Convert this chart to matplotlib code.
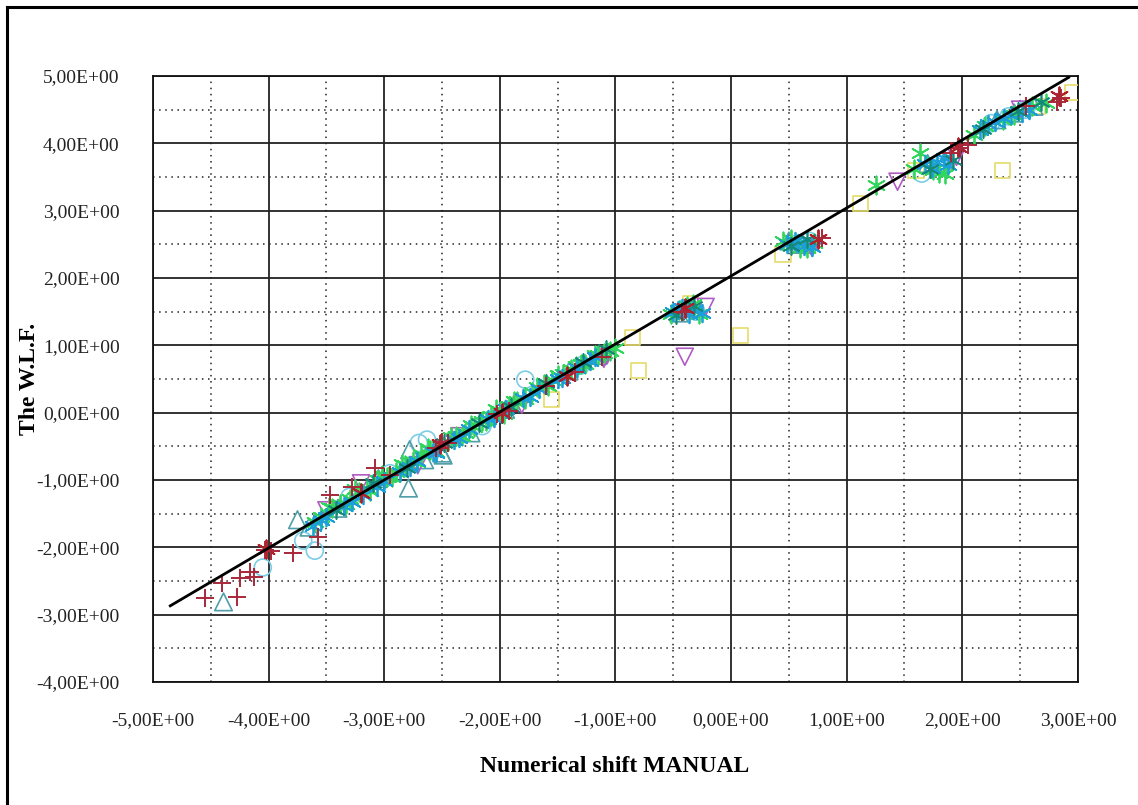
import matplotlib
matplotlib.use('Agg')
import matplotlib.pyplot as plt
from matplotlib.lines import Line2D

# ---------------- data ----------------
x_ticks = [-5, -4, -3, -2, -1, 0, 1, 2, 3]
x_tick_labels = ['-5,00E+00', '-4,00E+00', '-3,00E+00', '-2,00E+00', '-1,00E+00',
                 '0,00E+00', '1,00E+00', '2,00E+00', '3,00E+00']
y_ticks = [-4, -3, -2, -1, 0, 1, 2, 3, 4, 5]
y_tick_labels = ['-4,00E+00', '-3,00E+00', '-2,00E+00', '-1,00E+00', '0,00E+00',
                 '1,00E+00', '2,00E+00', '3,00E+00', '4,00E+00', '5,00E+00']

x_label = 'Numerical shift MANUAL'
y_label = 'The W.L.F.'

# regression line
fit_x = [-4.85, 2.92]
fit_slope = 1.01
fit_intercept = 2.03

red_x = [-4.55, -4.40, -4.27, -4.25, -4.16, -4.13, -4.03, -3.98, -3.79, -3.57, -3.47, -3.28,
         -3.08, -2.95, -2.55, -2.50, -2.45, -2.02, -1.92, -1.60, -1.35, -1.12, -0.42, 0.79,
         1.90, 1.98, 2.05, 2.55, 2.82, 2.85]
red_y = [-2.75, -2.53, -2.74, -2.45, -2.36, -2.44, -2.04, -2.06, -2.08, -1.85, -1.22, -1.10,
         -0.82, -0.93, -0.52, -0.43, -0.45, -0.02, 0.02, 0.40, 0.60, 0.82, 1.50, 2.60,
         3.85, 3.93, 3.98, 4.55, 4.62, 4.68]

red_star_x = [-4.02, -3.20, -2.52, -1.98, -1.42, -0.40, 0.75, 1.96, 2.84]
red_star_y = [-2.02, -1.20, -0.46, 0.00, 0.55, 1.55, 2.58, 3.95, 4.70]

tri_x = [-4.39, -3.75, -3.65, -3.40, -3.05, -2.79, -2.78, -2.65, -2.50, -2.49, -2.25, -1.95,
         -1.40, -1.15, -0.45, -0.35, 0.50, 0.62, 1.70, 1.85, 2.30, 2.45, 2.62]
tri_y = [-2.81, -1.59, -1.70, -1.42, -0.98, -1.12, -0.55, -0.70, -0.60, -0.63, -0.30, 0.05,
         0.62, 0.85, 1.48, 1.55, 2.55, 2.50, 3.70, 3.75, 4.35, 4.45, 4.55]

circ_x = [-4.05, -3.70, -3.60, -3.30, -2.95, -2.70, -2.63, -2.15, -1.78, -1.30, -0.40, -0.30,
          0.55, 0.68, 1.65, 1.80, 2.25, 2.40, 2.55]
circ_y = [-2.30, -1.90, -2.05, -1.25, -0.90, -0.45, -0.40, -0.20, 0.49, 0.70, 1.55, 1.50,
          2.50, 2.55, 3.55, 3.65, 4.30, 4.40, 4.50]

vtri_x = [-3.50, -3.20, -2.71, -2.35, -1.81, -1.10, -1.07, -0.40, -0.22, 0.70, 1.44, 1.95, 2.50]
vtri_y = [-1.45, -1.05, -0.78, -0.35, 0.12, 0.80, 0.86, 0.83, 1.57, 2.45, 3.43, 3.80, 4.50]

sq_x = [-1.55, -0.85, -0.80, -0.35, 0.08, 0.45, 1.12, 1.60, 2.35, 2.65, 2.95]
sq_y = [0.19, 1.12, 0.63, 1.62, 1.15, 2.35, 3.11, 3.60, 3.60, 4.55, 4.75]

green_x = [-3.55, -3.45, -3.38, -3.30, -3.22, -3.15, -3.05, -2.98, -2.90, -2.82, -2.75, -2.68,
           -2.60, -2.52, -2.45, -2.38, -2.30, -2.22, -2.15, -2.08, -2.00, -1.92, -1.85, -1.72,
           -1.62, -1.55, -1.45, -1.38, -1.30, -1.22, -1.15, -1.05, -0.45, -0.38, -0.28, 0.45,
           0.60, 0.72, 1.25, 1.63, 1.75, 1.85, 2.20, 2.35, 2.60, 2.72,
           -3.60, -3.48, -3.33, -3.25, -3.12, -3.02, -2.93, -2.85, -2.72, -2.62, -2.55, -2.42,
           -2.33, -2.25, -2.12, -2.03, -1.96, -1.88, -1.78, -1.68, -1.58, -1.50, -1.42, -1.34,
           -1.26, -1.18, -1.10, -1.00, -0.52, -0.33, 0.52, 0.66, 1.58, 1.80, 2.10, 2.45]
green_y = [-1.55, -1.42, -1.35, -1.28, -1.18, -1.12, -1.00, -0.95, -0.88, -0.78, -0.72, -0.62,
           -0.55, -0.50, -0.42, -0.35, -0.30, -0.22, -0.12, -0.05, 0.02, 0.10, 0.18, 0.30,
           0.42, 0.48, 0.58, 0.65, 0.72, 0.78, 0.85, 0.92, 1.52, 1.58, 1.47, 2.55,
           2.45, 2.52, 3.38, 3.86, 3.60, 3.55, 4.25, 4.35, 4.55, 4.60,
           -1.62, -1.40, -1.36, -1.14, -1.16, -0.92, -0.95, -0.76, -0.74, -0.52, -0.58, -0.36,
           -0.34, -0.18, -0.13, 0.06, -0.02, 0.18, 0.20, 0.38, 0.40, 0.56, 0.56, 0.70,
           0.72, 0.86, 0.88, 0.96, 1.46, 1.62, 2.58, 2.44, 3.62, 3.56, 4.12, 4.42]

blue_x = [-3.62, -3.50, -3.35, -3.18, -3.00, -2.86, -2.72, -2.58, -2.40, -2.27, -2.10, -1.95,
          -1.80, -1.66, -1.50, -1.33, -1.18, -0.50, -0.42, -0.33, -0.25, 0.48, 0.55, 0.63,
          1.68, 1.78, 1.88, 2.15, 2.28, 2.42, 2.58,
          -3.55, -3.28, -3.06, -2.78, -2.55, -2.35, -2.05, -1.74, -1.46, -1.22, -0.46, -0.36,
          0.58, 0.70, 1.74, 1.84, 2.22, 2.36, 2.52]
blue_y = [-1.68, -1.55, -1.38, -1.22, -1.02, -0.88, -0.72, -0.58, -0.40, -0.25, -0.10, 0.06,
          0.22, 0.35, 0.50, 0.67, 0.83, 1.50, 1.55, 1.52, 1.48, 2.50, 2.55, 2.48,
          3.70, 3.72, 3.68, 4.20, 4.32, 4.42, 4.50,
          -1.60, -1.32, -1.10, -0.80, -0.60, -0.38, -0.08, 0.24, 0.52, 0.76, 1.52, 1.46,
          2.52, 2.46, 3.64, 3.78, 4.28, 4.38, 4.45]

teal_x = [-3.42, -3.10, -2.80, -2.48, -2.18, -1.90, -1.60, -1.28, -1.08, -0.48, -0.32, 0.52,
          0.66, 1.72, 1.92, 2.18, 2.48, 2.68]
teal_y = [-1.45, -1.05, -0.82, -0.45, -0.16, 0.08, 0.44, 0.75, 0.95, 1.45, 1.58, 2.47,
          2.58, 3.62, 3.75, 4.22, 4.48, 4.62]

# ---------------- figure ----------------
plt.rcParams['font.family'] = ['Liberation Serif', 'DejaVu Serif']

fig = plt.figure(figsize=(11.38, 8.05), dpi=100)
ax = fig.add_axes([0.1344, 0.1528, 0.8128, 0.7528])

ax.set_xlim(-5, 3)
ax.set_ylim(-4, 5)
ax.set_xticks(x_ticks)
ax.set_xticklabels(x_tick_labels)
ax.set_yticks(y_ticks)
ax.set_yticklabels(y_tick_labels)
ax.set_xticks([v + 0.5 for v in x_ticks[:-1]], minor=True)
ax.set_yticks([v + 0.5 for v in y_ticks[:-1]], minor=True)
ax.tick_params(which='both', length=0)
ax.tick_params(axis='x', pad=22, labelsize=14, colors='#222222')
ax.tick_params(axis='y', pad=24, labelsize=14, colors='#222222')
ax.grid(which='major', color='#222222', lw=1.3, ls='-')
ax.grid(which='minor', color='#222222', lw=1.1, ls=(0, (1, 3)))
ax.set_axisbelow(True)
for s in ax.spines.values():
    s.set_color('#111111')
    s.set_linewidth(1.3)

asterisk = (6, 2, 0)
ax.scatter(sq_x, sq_y, marker='s', s=120, facecolors='none', edgecolors='#e6dc6a', linewidths=1.2, zorder=3)
ax.scatter(circ_x, circ_y, marker='o', s=150, facecolors='none', edgecolors='#7ccde6', linewidths=1.2, zorder=3)
ax.scatter(tri_x, tri_y, marker='^', s=160, facecolors='none', edgecolors='#4f9ea8', linewidths=1.2, zorder=3)
ax.scatter(vtri_x, vtri_y, marker='v', s=150, facecolors='none', edgecolors='#b05cc4', linewidths=1.2, zorder=3)
ax.scatter(green_x, green_y, marker=asterisk, s=170, c='#33d65c', linewidths=1.3, zorder=4)
ax.scatter(blue_x, blue_y, marker=asterisk, s=160, c='#1c9fd8', linewidths=1.3, zorder=4)
ax.scatter(teal_x, teal_y, marker=asterisk, s=150, c='#14897a', linewidths=1.2, zorder=4)
ax.scatter(red_star_x, red_star_y, marker=asterisk, s=170, c='#b0202a', linewidths=1.4, zorder=5)
ax.scatter(red_x, red_y, marker='+', s=180, c='#a8283a', linewidths=1.4, zorder=5)

fit_y = [fit_slope * v + fit_intercept for v in fit_x]
ax.plot(fit_x, fit_y, color='black', lw=2.0, zorder=6)

fig.text(0.5405, 0.048, x_label, ha='center', va='center', fontsize=17, fontweight='bold')
fig.text(0.026, 0.529, y_label, ha='center', va='center', rotation=90, fontsize=17, fontweight='bold')

# outer frame (left and top edges)
fig.add_artist(Line2D([7 / 1138, 7 / 1138], [0, 1 - 7 / 805], color='black', lw=2.2, transform=fig.transFigure))
fig.add_artist(Line2D([7 / 1138, 1], [1 - 7 / 805, 1 - 7 / 805], color='black', lw=2.2, transform=fig.transFigure))

fig.savefig('out.png', dpi=100)
